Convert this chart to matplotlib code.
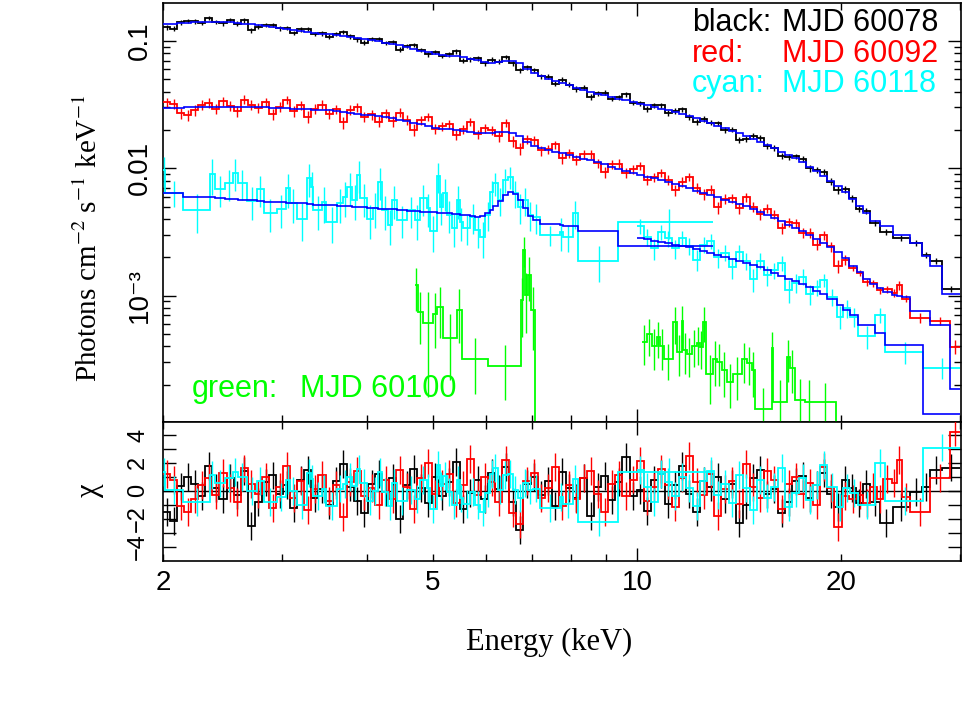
import numpy as np
import matplotlib
matplotlib.use("Agg")
import matplotlib.pyplot as plt
from matplotlib.ticker import FixedLocator, FixedFormatter, NullFormatter, FuncFormatter

plt.rcParams['font.family'] = ['Liberation Sans', 'DejaVu Sans']
plt.rcParams['mathtext.fontset'] = 'stix'

# flux values below are in units of 1e-3 photons cm^-2 s^-1 keV^-1
FLUX_UNIT = 1e-3

# shared fine energy grid (keV, bin edges)
energy_grid = [2.000, 2.049, 2.098, 2.149, 2.201, 2.255, 2.310, 2.366, 2.423, 2.482,
               2.543, 2.604, 2.668, 2.732, 2.799, 2.867, 2.936, 3.008, 3.081, 3.156,
               3.232, 3.311, 3.391, 3.474, 3.558, 3.645, 3.733, 3.824, 3.917, 4.012,
               4.109, 4.209, 4.311, 4.416, 4.523, 4.633, 4.746, 4.861, 4.979, 5.100,
               5.224, 5.351, 5.481, 5.614, 5.750, 5.890, 6.033, 6.180, 6.330, 6.484,
               6.641, 6.803, 6.968, 7.137, 7.311, 7.488, 7.670, 7.857, 8.047, 8.243,
               8.443, 8.649, 8.859, 9.074, 9.295, 9.520, 9.752, 9.989, 10.23, 10.48,
               10.73, 10.99, 11.26, 11.53, 11.81, 12.10, 12.40, 12.70, 13.01, 13.32,
               13.65, 13.98, 14.32, 14.66, 15.02, 15.39, 15.76, 16.14, 16.54, 16.94,
               17.35, 17.77, 18.20, 18.65, 19.10, 19.56, 20.04, 20.52, 21.02, 21.54,
               22.06]

# ---- black: MJD 60078 ----
black_tail_edges = [22.83, 23.85, 25.27, 26.33, 27.05, 28.18, 30.0]
black_flux = [127.6, 124.7, 139.4, 143.9, 142.2, 138.0, 150.3, 141.3, 136.8, 145.2,
              136.7, 144.4, 121.5, 129.0, 134.0, 133.9, 125.0, 125.5, 115.3, 122.7,
              124.0, 113.0, 114.2, 107.6, 113.5, 117.0, 108.4, 102.6, 96.9, 103.3,
              103.6, 96.4, 98.1, 85.1, 91.0, 92.2, 84.6, 78.3, 81.7, 76.3,
              78.6, 82.5, 70.0, 71.6, 72.8, 66.5, 71.0, 68.5, 74.6, 66.8,
              58.7, 61.8, 58.6, 52.6, 52.2, 46.2, 49.6, 45.2, 41.9, 42.8,
              36.2, 38.9, 39.1, 35.1, 36.2, 37.9, 32.6, 32.3, 29.2, 31.3,
              31.1, 27.1, 28.1, 29.0, 25.4, 22.9, 24.4, 22.8, 22.6, 20.0,
              20.1, 16.6, 17.1, 17.9, 17.3, 15.0, 14.4, 12.4, 12.2, 12.4,
              11.9, 9.99, 9.67, 9.32, 7.85, 6.77, 6.81, 5.82, 4.81, 4.61,
              3.72, 3.15, 2.83, 2.59, 2.08, 1.87, 1.13]
black_err = [5.4, 5.5, 5.5, 5.5, 5.6, 5.6, 5.6, 5.6, 5.6, 5.6,
             5.5, 5.5, 5.4, 5.3, 5.2, 5.1, 5.0, 4.9, 4.8, 4.8,
             4.7, 4.6, 4.5, 4.5, 4.4, 4.3, 4.3, 4.2, 4.1, 4.1,
             4.0, 3.9, 3.8, 3.7, 3.6, 3.5, 3.4, 3.2, 3.1, 3.1,
             3.4, 3.4, 3.3, 3.2, 3.2, 3.1, 3.0, 3.1, 3.1, 3.1,
             3.0, 2.7, 2.5, 2.4, 2.3, 2.2, 2.1, 2.0, 1.9, 1.85,
             1.77, 1.73, 1.68, 1.63, 1.58, 1.54, 1.49, 1.45, 1.40, 1.36,
             1.47, 1.42, 1.38, 1.33, 1.29, 1.24, 1.18, 1.13, 1.08, 1.03,
             0.98, 0.94, 0.90, 0.86, 0.81, 0.76, 0.72, 0.68, 0.64, 0.60,
             0.67, 0.62, 0.57, 0.52, 0.48, 0.44, 0.39, 0.35, 0.30, 0.27,
             0.18, 0.16, 0.14, 0.13, 0.11, 0.10, 0.06]
black_model = [135.7, 136.7, 137.7, 138.4, 139.4, 140.2, 140.2, 140.2, 140.2, 140.2,
               138.4, 136.7, 135.0, 133.3, 130.9, 128.3, 126.0, 123.5, 121.1, 118.9,
               117.0, 115.3, 113.7, 112.1, 110.4, 108.7, 107.1, 105.6, 103.5, 101.3,
               98.9, 96.8, 94.7, 92.5, 89.6, 86.7, 83.9, 81.2, 78.6, 77.5,
               76.5, 75.4, 74.4, 72.2, 70.3, 68.3, 67.1, 68.2, 69.3, 69.3,
               67.2, 60.4, 56.1, 53.3, 50.6, 48.6, 46.7, 44.8, 42.9, 41.1,
               39.4, 38.4, 37.3, 36.2, 35.2, 34.2, 33.2, 32.2, 31.2, 30.2,
               29.3, 28.4, 27.5, 26.6, 25.7, 24.8, 23.6, 22.5, 21.5, 20.6,
               19.6, 18.8, 18.0, 17.1, 16.1, 15.2, 14.3, 13.5, 12.7, 12.0,
               11.2, 10.3, 9.44, 8.65, 7.95, 7.29, 6.50, 5.75, 5.08, 4.48,
               3.87, 3.52, 2.99, 2.60, 2.05, 1.72, 1.03]

# ---- red: MJD 60092 ----
red_tail_edges = [21.09, 21.57, 22.07, 22.57, 23.08, 23.75, 24.21, 24.57, 25.27, 27.05, 28.94, 30.0]
red_flux = [32.91, 31.96, 26.96, 26.03, 28.57, 31.29, 32.65, 29.38, 33.73, 30.74,
            28.03, 34.55, 31.56, 29.66, 32.80, 26.64, 30.50, 34.33, 28.06, 31.07,
            25.41, 29.12, 31.54, 26.70, 29.05, 22.87, 28.66, 30.13, 25.42, 26.42,
            23.23, 26.97, 23.42, 27.30, 23.99, 20.04, 23.84, 25.28, 20.44, 21.36,
            22.21, 18.30, 20.20, 23.03, 18.50, 20.56, 19.99, 17.82, 22.81, 16.29,
            14.29, 16.91, 16.55, 13.79, 14.13, 15.36, 11.97, 13.19, 11.70, 12.82,
            12.90, 10.95, 9.34, 10.75, 10.87, 9.24, 9.83, 10.42, 8.07, 8.53,
            9.22, 8.12, 6.71, 7.83, 8.50, 7.02, 6.23, 6.79, 4.94, 5.73,
            5.81, 4.84, 5.93, 4.96, 4.35, 4.83, 4.33, 3.37, 3.76, 3.70,
            3.13, 3.13, 2.52, 2.97, 2.44, 1.70, 1.91,
            1.648, 1.506, 1.280, 1.257, 1.108, 1.128, 1.049, 1.212, 0.950, 0.668, 0.630, 0.396]
red_err = [2.67, 2.68, 2.69, 2.71, 2.72, 2.72, 2.72, 2.72, 2.72, 2.72,
           2.72, 2.72, 2.72, 2.72, 2.71, 2.69, 2.67, 2.66, 2.64, 2.63,
           2.62, 2.60, 2.58, 2.57, 2.52, 2.48, 2.45, 2.41, 2.37, 2.34,
           2.30, 2.26, 2.23, 2.16, 2.10, 2.04, 1.98, 1.93, 1.87, 1.84,
           1.71, 1.68, 1.66, 1.64, 1.61, 1.61, 1.62, 1.63, 1.63, 1.60,
           1.53, 1.36, 1.27, 1.22, 1.18, 1.14, 1.12, 1.08, 1.05, 1.01,
           0.98, 0.95, 0.91, 0.88, 0.84, 0.81, 0.78, 0.75, 0.73, 0.71,
           0.73, 0.71, 0.68, 0.65, 0.62, 0.60, 0.58, 0.55, 0.53, 0.51,
           0.49, 0.47, 0.46, 0.43, 0.41, 0.39, 0.36, 0.34, 0.32, 0.31,
           0.29, 0.27, 0.25, 0.23, 0.22, 0.20, 0.18,
           0.10, 0.09, 0.08, 0.08, 0.07, 0.07, 0.07, 0.10, 0.06, 0.06, 0.045, 0.05]
red_model = [29.70, 29.81, 29.92, 30.09, 30.20, 30.20, 30.20, 30.20, 30.20, 30.20,
             30.20, 30.20, 30.20, 30.20, 30.09, 29.87, 29.70, 29.54, 29.38, 29.23,
             29.07, 28.86, 28.70, 28.50, 28.04, 27.59, 27.19, 26.76, 26.37, 25.95,
             25.53, 25.16, 24.76, 24.05, 23.36, 22.70, 22.05, 21.42, 20.81, 20.44,
             20.15, 19.82, 19.54, 19.26, 18.98, 18.95, 19.02, 19.12, 19.22, 18.85,
             17.95, 15.96, 14.90, 14.40, 13.89, 13.42, 13.20, 12.76, 12.33, 11.91,
             11.53, 11.14, 10.71, 10.31, 9.94, 9.56, 9.20, 8.84, 8.58, 8.32,
             8.06, 7.84, 7.52, 7.24, 6.94, 6.66, 6.40, 6.13, 5.90, 5.68,
             5.47, 5.27, 5.06, 4.83, 4.56, 4.29, 4.04, 3.82, 3.60, 3.39,
             3.19, 2.97, 2.77, 2.58, 2.40, 2.22, 1.98,
             1.708, 1.533, 1.351, 1.234, 1.148, 1.068, 1.012, 0.994, 0.976, 0.758, 0.589, 0.186]

# ---- cyan: MJD 60118 (low-energy instrument) ----
cyanA_edges = [2.000, 2.017, 2.140, 2.346, 2.386, 2.467, 2.535, 2.579, 2.659, 2.751,
               2.818, 2.944, 3.036, 3.078, 3.152, 3.262, 3.306, 3.328, 3.432, 3.479,
               3.611, 3.686, 3.736, 3.800, 3.865, 3.905, 3.999, 4.081, 4.150, 4.207,
               4.293, 4.352, 4.426, 4.580, 4.706, 4.786, 4.901, 4.951, 5.070, 5.122,
               5.175, 5.246, 5.336, 5.427, 5.483, 5.539, 5.674, 5.771, 5.870, 5.970,
               6.073, 6.135, 6.237, 6.344, 6.453, 6.564, 6.676, 6.790, 6.906, 7.025,
               7.194, 7.699, 7.778, 8.048, 8.185, 9.375, 12.94]
cyanA_flux = [9.68, 6.42, 4.70, 9.00, 6.86, 7.65, 9.17, 7.65, 5.53, 6.86,
              4.45, 4.78, 6.99, 5.33, 3.99, 8.37, 7.12, 4.70, 5.43, 3.78,
              5.33, 5.94, 7.12, 5.63, 8.84, 5.84, 3.99, 4.87, 7.79, 4.70,
              3.58, 5.63, 3.92, 4.70, 3.92, 5.84, 4.87, 3.21, 8.68, 4.96,
              6.39, 4.29, 3.39, 5.63, 3.78, 3.39, 4.14, 3.27, 2.89, 4.29,
              6.50, 7.65, 5.63, 8.08, 8.53, 6.39, 4.96, 5.63, 4.29, 4.14,
              2.99, 3.16, 2.89, 4.45, 1.87, 3.78]
cyanA_err = [2.5, 1.5, 1.6, 2.8, 1.9, 2.1, 2.6, 2.0, 1.6, 1.9,
             1.3, 1.4, 2.1, 1.6, 1.3, 2.4, 2.2, 1.4, 1.7, 1.2,
             1.6, 1.8, 2.1, 1.7, 2.5, 1.7, 1.2, 1.5, 2.2, 1.4,
             1.1, 1.6, 1.1, 1.3, 1.2, 1.6, 1.4, 1.0, 2.3, 1.4,
             1.8, 1.2, 1.0, 1.6, 1.1, 0.9, 1.1, 0.9, 0.9, 1.1,
             1.5, 1.6, 1.4, 1.7, 1.7, 1.5, 1.3, 1.4, 1.1, 1.1,
             0.55, 0.9, 0.7, 1.1, 0.6, 1.0]
cyanA_model = [6.39, 6.36, 5.97, 5.92, 5.86, 5.78, 5.73, 5.67, 5.59, 5.53,
               5.47, 5.40, 5.36, 5.33, 5.29, 5.24, 5.23, 5.19, 5.16, 5.11,
               5.07, 5.04, 5.01, 4.99, 4.97, 4.94, 4.90, 4.86, 4.83, 4.80,
               4.78, 4.75, 4.70, 4.65, 4.62, 4.57, 4.55, 4.52, 4.49, 4.48,
               4.45, 4.43, 4.39, 4.37, 4.33, 4.27, 4.20, 4.16, 4.25, 4.49,
               4.74, 5.05, 5.58, 6.11, 6.50, 6.27, 5.63, 4.87, 4.22, 3.96,
               3.65, 3.58, 3.55, 3.49, 3.21, 2.45]

# ---- cyan: MJD 60118 (hard X-ray instrument) ----
cyanB_tail_edges = [19.71, 20.16, 20.61, 21.21, 22.44, 23.22, 26.44, 30.0]
cyanB_flux = [3.52, 2.90, 2.35, 3.15, 2.83, 2.35, 2.84, 2.47, 1.92, 2.51,
              2.67, 2.00, 2.18, 1.67, 2.21, 1.87, 1.35, 1.88, 1.45, 1.58,
              1.80, 1.10, 1.26, 1.41, 1.03, 1.16, 1.33,
              0.981, 0.684, 0.796, 0.684, 0.483, 0.705, 0.360, 0.272]
cyanB_err = [0.45, 0.44, 0.43, 0.42, 0.41, 0.40, 0.39, 0.38, 0.37, 0.36,
             0.35, 0.34, 0.32, 0.31, 0.30, 0.29, 0.28, 0.27, 0.25, 0.24,
             0.23, 0.22, 0.21, 0.20, 0.19, 0.17, 0.16,
             0.15, 0.14, 0.13, 0.12, 0.10, 0.10, 0.07, 0.05]
cyanB_model = [2.84, 2.77, 2.70, 2.64, 2.58, 2.51, 2.45, 2.39, 2.33, 2.26,
               2.18, 2.10, 2.02, 1.95, 1.88, 1.81, 1.74, 1.67, 1.58, 1.51,
               1.43, 1.36, 1.30, 1.23, 1.16, 1.09, 1.03,
               0.936, 0.845, 0.772, 0.705, 0.586, 0.507, 0.411, 0.117]

# ---- green: MJD 60100 ----
green1_edges = [4.706, 4.754, 4.836, 5.002, 5.070, 5.175, 5.427, 5.520, 6.029, 6.744,
                6.790, 6.837, 6.906, 6.977, 7.072, 7.318]
green1_flux = [1.212, 0.745, 0.610, 0.718, 0.815, 0.466, 0.772, 0.319, 0.281, 0.925,
               2.28, 1.012, 1.452, 0.772, 0.01]
green1_err = [0.45, 0.33, 0.45, 0.33, 0.35, 0.25, 0.35, 0.15, 0.13, 0.45,
              0.6, 0.5, 0.55, 0.4, 0.0]
green2_edges = [10.16, 10.335, 10.51, 10.69, 10.81, 10.96, 11.29, 11.47, 11.64, 11.70,
                11.86, 12.04, 12.25, 12.38, 12.52, 12.64, 12.96, 13.11, 13.33, 13.56,
                13.87, 14.27, 14.52, 14.76, 14.93, 15.80, 15.89, 16.63, 16.81, 17.11,
                17.69, 18.20, 19.65, 20.27]
green2_flux = [0.436, 0.497, 0.403, 0.476, 0.403, 0.317, 0.618, 0.364, 0.636, 0.375,
               0.349, 0.405, 0.428, 0.398, 0.625, 0.242, 0.317, 0.304, 0.261, 0.211,
               0.243, 0.317, 0.298, 0.261, 0.1286, 0.387, 0.1475, 0.329, 0.272, 0.152,
               0.146, 0.1475, 0.01]
green2_err = [0.15, 0.16, 0.14, 0.15, 0.14, 0.10, 0.20, 0.13, 0.20, 0.13,
              0.12, 0.13, 0.14, 0.13, 0.19, 0.10, 0.12, 0.11, 0.10, 0.08,
              0.09, 0.11, 0.10, 0.10, 0.06, 0.13, 0.07, 0.12, 0.10, 0.07,
              0.07, 0.06, 0.0]

legend_labels = ["black:", "red:", "cyan:"]
legend_dates = ["MJD 60078", "MJD 60092", "MJD 60118"]
green_label = ["green:", "MJD 60100"]

x_tick_labels = {2: "2", 5: "5", 10: "10", 20: "20"}
y_tick_labels = ["10\u207b\u00b3", "0.01", "0.1"]
chi_tick_labels = ["\u22124", "\u22122", "0", "2", "4"]

BLACK, RED, CYAN, GREEN, BLUE = "#000000", "#ff0000", "#00ffff", "#00ff00", "#0000ff"

black_edges = energy_grid + black_tail_edges
red_edges = energy_grid[:98] + red_tail_edges
cyanB_edges = energy_grid[67:95] + cyanB_tail_edges

W, H = 969, 709
fig = plt.figure(figsize=(W / 100, H / 100), dpi=100)
L, R = 163, 961
ax = fig.add_axes([L / W, 1 - 422 / H, (R - L) / W, (422 - 3) / H])
rx = fig.add_axes([L / W, 1 - 561 / H, (R - L) / W, (561 - 422) / H])


def spectrum(a, edges, flux, err, color, z):
    e = np.asarray(edges, float)
    f = np.asarray(flux, float) * FLUX_UNIT
    s = np.asarray(err, float) * FLUX_UNIT
    a.stairs(f, e, baseline=None, color=color, lw=1.3, zorder=z)
    c = 0.5 * (e[:-1] + e[1:])
    m = s > 0
    lo = np.clip(f - s, 1e-9, None)
    a.vlines(c[m], lo[m], (f + s)[m], color=color, lw=1.0, zorder=z)


def model(a, edges, mod, z):
    a.stairs(np.asarray(mod, float) * FLUX_UNIT, np.asarray(edges, float),
             baseline=None, color=BLUE, lw=1.2, zorder=z)


def resid(a, edges, flux, err, mod, color, z):
    e = np.asarray(edges, float)
    chi = (np.asarray(flux, float) - np.asarray(mod, float)) / np.asarray(err, float)
    a.stairs(chi, e, baseline=None, color=color, lw=1.3, zorder=z)
    c = 0.5 * (e[:-1] + e[1:])
    a.vlines(c, chi - 1, chi + 1, color=color, lw=1.0, zorder=z)


ax.set_xscale('log')
ax.set_yscale('log')
rx.set_xscale('log')

spectrum(ax, black_edges, black_flux, black_err, BLACK, 2)
spectrum(ax, red_edges, red_flux, red_err, RED, 3)
spectrum(ax, green1_edges, green1_flux, green1_err, GREEN, 3.5)
spectrum(ax, green2_edges, green2_flux, green2_err, GREEN, 3.5)
spectrum(ax, cyanA_edges, cyanA_flux, cyanA_err, CYAN, 4)
spectrum(ax, cyanB_edges, cyanB_flux, cyanB_err, CYAN, 4)
model(ax, black_edges, black_model, 5)
model(ax, red_edges, red_model, 5)
model(ax, cyanA_edges, cyanA_model, 5)
model(ax, cyanB_edges, cyanB_model, 5)

rx.axhline(0, color=BLACK, lw=1.0, zorder=1)
resid(rx, black_edges, black_flux, black_err, black_model, BLACK, 2)
resid(rx, red_edges, red_flux, red_err, red_model, RED, 3)
resid(rx, cyanA_edges, cyanA_flux, cyanA_err, cyanA_model, CYAN, 4)
resid(rx, cyanB_edges, cyanB_flux, cyanB_err, cyanB_model, CYAN, 4)

XMIN, XMAX = 2.0, 30.06
ax.set_xlim(XMIN, XMAX)
rx.set_xlim(XMIN, XMAX)
ax.set_ylim(1.02e-4, 0.198)
rx.set_ylim(-5.03, 4.93)

for a in (ax, rx):
    a.xaxis.set_major_locator(FixedLocator([10]))
    a.xaxis.set_minor_locator(FixedLocator([2, 3, 4, 5, 6, 7, 8, 9, 20, 30]))
    a.tick_params(which='both', direction='in', top=True, right=True,
                  width=1.0, labelsize=20, colors='black')
    a.tick_params(which='major', length=9.5)
    a.tick_params(which='minor', length=5)
    for sp in a.spines.values():
        sp.set_linewidth(1.2)

ax.xaxis.set_major_formatter(NullFormatter())
ax.xaxis.set_minor_formatter(NullFormatter())
rx.xaxis.set_major_formatter(FuncFormatter(lambda v, p: x_tick_labels.get(int(round(v)), "")))
rx.xaxis.set_minor_formatter(FuncFormatter(lambda v, p: x_tick_labels.get(int(round(v)), "")))
rx.tick_params(axis='x', which='both', pad=6.5)

ax.yaxis.set_major_locator(FixedLocator([1e-3, 1e-2, 1e-1]))
ax.yaxis.set_major_formatter(FixedFormatter(y_tick_labels))
ax.yaxis.set_minor_locator(FixedLocator([k * 10.0 ** n for n in (-4, -3, -2, -1) for k in range(2, 10)]))
ax.yaxis.set_minor_formatter(NullFormatter())
ax.tick_params(axis='y', which='major', pad=7, labelrotation=90)
for t in ax.get_yticklabels():
    t.set_verticalalignment('center')

rx.yaxis.set_major_locator(FixedLocator([-4, -2, 0, 2, 4]))
rx.yaxis.set_major_formatter(FixedFormatter(chi_tick_labels))
rx.yaxis.set_minor_locator(FixedLocator([-3, -1, 1, 3]))
rx.tick_params(axis='y', which='both', length=9.5)
rx.tick_params(axis='y', which='major', pad=10, labelrotation=90, labelsize=17)
for t in rx.get_yticklabels():
    t.set_verticalalignment('center')

serif = ['Liberation Serif', 'DejaVu Serif']
fig.text(89 / W, 1 - 238 / H, "Photons cm$^{-2}$ s$^{-1}$ keV$^{-1}$", rotation=90,
         family=serif, fontsize=21, ha='center', va='center')
fig.text(90 / W, 1 - 490 / H, "\u03c7", rotation=90, family=serif, fontsize=22,
         ha='center', va='center')
fig.text(549 / W, 1 - 642 / H, "Energy (keV)", family=serif, fontsize=22,
         ha='center', va='center')

for lab, date, col, yb in zip(legend_labels, legend_dates, [BLACK, RED, CYAN], [31, 62, 92]):
    fig.text(692 / W, 1 - yb / H, lab, color=col, fontsize=22, ha='left', va='baseline')
    fig.text(782 / W, 1 - yb / H, date, color=col, fontsize=22, ha='left', va='baseline')
fig.text(192 / W, 1 - 397 / H, green_label[0], color=GREEN, fontsize=22, ha='left', va='baseline')
fig.text(300 / W, 1 - 397 / H, green_label[1], color=GREEN, fontsize=22, ha='left', va='baseline')

fig.savefig("out.png", dpi=100)
